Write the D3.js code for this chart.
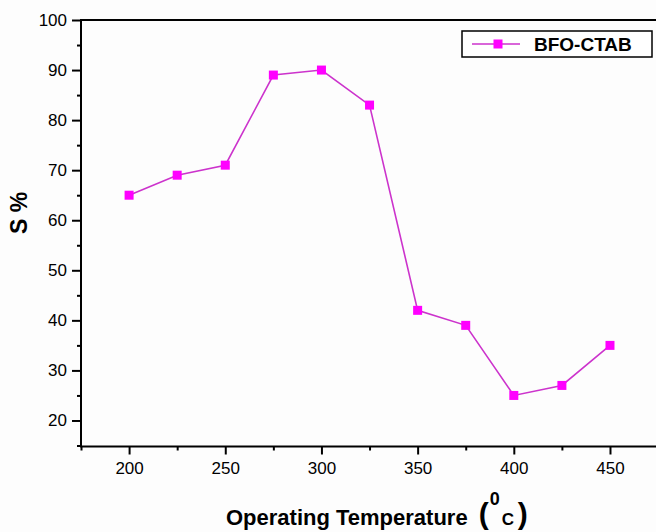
<!DOCTYPE html>
<html>
<head>
  <meta charset="utf-8">
  <title>BFO-CTAB - S% vs Operating Temperature</title>
  <script src="https://d3js.org/d3.v7.min.js"></script>
  <style>
    body { margin: 0; background: #fdfdfd; }
    text { font-family: "Liberation Sans", Arial, sans-serif; fill: #000; }
  </style>
</head>
<body>
  <script>
    var temperatures = [200, 225, 250, 275, 300, 325, 350, 375, 400, 425, 450];
    var sensitivity = [65, 69, 71, 89, 90, 83, 42, 39, 25, 27, 35];
    var xTickValues = [200, 250, 300, 350, 400, 450];
    var yTickValues = [20, 30, 40, 50, 60, 70, 80, 90, 100];
    var seriesName = 'BFO-CTAB';

    var width = 656, height = 532;
    var margin = { top: 20, right: -4, bottom: 85.5, left: 81 };
    var graphWidth = width - margin.left - margin.right;
    var graphHeight = height - margin.top - margin.bottom;

    var svg = d3.select('body').append('svg')
      .attr('width', width)
      .attr('height', height);

    svg.append('rect')
      .attr('width', width)
      .attr('height', height)
      .attr('fill', '#fdfdfd');

    var xScale = d3.scaleLinear().domain([175, 476]).range([0, graphWidth]);
    var yScale = d3.scaleLinear().domain([14.8, 100]).range([graphHeight, 0]);

    var g = svg.append('g')
      .attr('transform', 'translate(' + margin.left + ',' + margin.top + ')');

    // frame
    g.append('rect')
      .attr('width', graphWidth)
      .attr('height', graphHeight)
      .attr('fill', 'none')
      .attr('stroke', '#000')
      .attr('stroke-width', 2);

    // minor ticks
    var xMinor = d3.axisBottom(xScale).tickValues([175, 225, 275, 325, 375, 425]).tickSize(4).tickFormat('');
    var yMinor = d3.axisLeft(yScale).tickValues([15, 25, 35, 45, 55, 65, 75, 85, 95]).tickSize(4).tickFormat('');
    g.append('g').attr('transform', 'translate(0,' + graphHeight + ')').call(xMinor);
    g.append('g').call(yMinor);

    var xAxis = d3.axisBottom(xScale).tickValues(xTickValues).tickSize(8).tickPadding(7);
    var yAxis = d3.axisLeft(yScale).tickValues(yTickValues).tickSize(9).tickPadding(5);
    g.append('g').attr('transform', 'translate(0,' + graphHeight + ')').call(xAxis);
    g.append('g').call(yAxis);

    g.selectAll('.domain').remove();
    g.selectAll('.tick line').attr('stroke', '#000').attr('stroke-width', 2);
    g.selectAll('.tick text').style('font-size', '17px').attr('fill', '#000');

    // series
    var line = d3.line()
      .x(function(d, i) { return xScale(temperatures[i]); })
      .y(function(d) { return yScale(d); });

    g.append('path')
      .datum(sensitivity)
      .attr('d', line)
      .attr('fill', 'none')
      .attr('stroke', '#cc33cc')
      .attr('stroke-width', 1.6);

    var ms = 9;
    g.selectAll('rect.pt')
      .data(sensitivity)
      .enter().append('rect')
      .attr('class', 'pt')
      .attr('x', function(d, i) { return xScale(temperatures[i]) - ms / 2; })
      .attr('y', function(d) { return yScale(d) - ms / 2; })
      .attr('width', ms)
      .attr('height', ms)
      .attr('fill', '#ff00ff');

    // legend
    var legend = svg.append('g').attr('transform', 'translate(462,31)');
    legend.append('rect')
      .attr('width', 190)
      .attr('height', 26)
      .attr('fill', '#fff')
      .attr('stroke', '#000')
      .attr('stroke-width', 1.5);
    legend.append('line')
      .attr('x1', 10).attr('x2', 58)
      .attr('y1', 13).attr('y2', 13)
      .attr('stroke', '#cc33cc')
      .attr('stroke-width', 1.6);
    legend.append('rect')
      .attr('x', 36 - ms / 2).attr('y', 13 - ms / 2)
      .attr('width', ms).attr('height', ms)
      .attr('fill', '#ff00ff');
    legend.append('text')
      .attr('x', 72).attr('y', 19.5)
      .style('font-size', '19px')
      .style('font-weight', 'bold')
      .text(seriesName);

    // y title
    svg.append('text')
      .attr('transform', 'translate(27,213) rotate(-90)')
      .attr('text-anchor', 'middle')
      .style('font-size', '23px')
      .style('font-weight', 'bold')
      .text('S %');

    // x title
    var title = svg.append('g').style('font-weight', 'bold');
    var main = title.append('text')
      .attr('x', 226).attr('y', 525)
      .style('font-size', '22px')
      .text('Operating Temperature');
    var end = 226 + main.node().getComputedTextLength();
    title.append('text').attr('x', end + 11).attr('y', 524)
      .style('font-size', '30px').text('(');
    title.append('text').attr('x', end + 22).attr('y', 505)
      .style('font-size', '18px').text('0');
    title.append('text').attr('x', end + 34).attr('y', 525)
      .style('font-size', '17px').text('C');
    title.append('text').attr('x', end + 50).attr('y', 524)
      .style('font-size', '30px').text(')');
  </script>
</body>
</html>
